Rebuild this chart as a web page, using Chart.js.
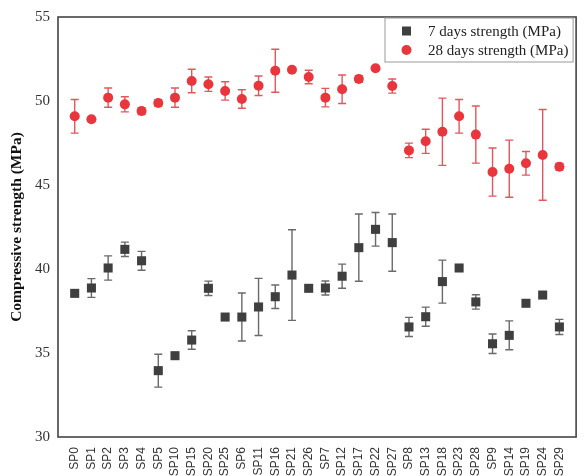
<!DOCTYPE html>
<html>
<head>
<meta charset="utf-8">
<script src="https://cdn.jsdelivr.net/npm/chart.js@4"></script>
<style>
  html, body { margin: 0; padding: 0; background: #fff; }
  #wrap { width: 584px; height: 476px; }
</style>
</head>
<body>
<div id="wrap"><canvas id="chart"></canvas></div>
<script>
/* data */
const categories = ["SP0","SP1","SP2","SP3","SP4","SP5","SP10","SP15","SP20","SP25",
  "SP6","SP11","SP16","SP21","SP26","SP7","SP12","SP17","SP22","SP27",
  "SP8","SP13","SP18","SP23","SP28","SP9","SP14","SP19","SP24","SP29"];
const days7 = [38.55, 38.87, 40.06, 41.17, 40.49, 33.95, 34.84, 35.77, 38.85, 37.14,
  37.14, 37.74, 38.35, 39.64, 38.85, 38.87, 39.57, 41.27, 42.36, 41.57,
  36.55, 37.16, 39.25, 40.06, 38.04, 35.55, 36.05, 37.96, 38.45, 36.55];
const days7Err = [0.1, 0.56, 0.72, 0.43, 0.56, 0.98, 0.1, 0.55, 0.43, 0.15,
  1.43, 1.7, 0.7, 2.7, 0.15, 0.42, 0.72, 2.0, 1.0, 1.7,
  0.57, 0.57, 1.28, 0.1, 0.43, 0.58, 0.86, 0.15, 0.1, 0.45];
const days28 = [49.09, 48.91, 50.2, 49.8, 49.4, 49.88, 50.2, 51.19, 51.0, 50.6,
  50.12, 50.91, 51.8, 51.86, 51.43, 50.2, 50.7, 51.31, 51.95, 50.89,
  47.06, 47.6, 48.17, 49.09, 48.0, 45.77, 45.97, 46.29, 46.79, 46.09];
const days28Err = [1.0, 0.1, 0.57, 0.45, 0.2, 0.2, 0.57, 0.7, 0.43, 0.55,
  0.55, 0.58, 1.28, 0.1, 0.4, 0.55, 0.85, 0.2, 0.1, 0.42,
  0.43, 0.72, 2.0, 1.0, 1.7, 1.43, 1.7, 0.7, 2.7, 0.2];
const yTicks = [30, 35, 40, 45, 50, 55];

const toPoints = arr => arr.map((v, i) => ({ x: i, y: v }));

/* error bars, drawn through the scales */
const errorBars = {
  id: 'errorBars',
  beforeDatasetsDraw(chart) {
    const ctx = chart.ctx;
    const xs = chart.scales.x, ys = chart.scales.y;
    chart.data.datasets.forEach(ds => {
      if (!ds.err) return;
      ctx.save();
      ctx.strokeStyle = ds.errColor;
      ctx.lineWidth = 1.4;
      ds.data.forEach((p, i) => {
        const e = ds.err[i];
        const x = xs.getPixelForValue(p.x);
        const y1 = ys.getPixelForValue(p.y + e);
        const y2 = ys.getPixelForValue(p.y - e);
        ctx.beginPath();
        ctx.moveTo(x, y1); ctx.lineTo(x, y2);
        ctx.moveTo(x - 4, y1); ctx.lineTo(x + 4, y1);
        ctx.moveTo(x - 4, y2); ctx.lineTo(x + 4, y2);
        ctx.stroke();
      });
      ctx.restore();
    });
  }
};

/* frame + inner legend */
const frameLegend = {
  id: 'frameLegend',
  afterDraw(chart) {
    const ctx = chart.ctx, a = chart.chartArea;
    ctx.save();
    ctx.strokeStyle = '#444';
    ctx.lineWidth = 1.6;
    ctx.strokeRect(a.left, a.top, a.right - a.left, a.bottom - a.top);

    const bx = 385, by = 18, bw = a.right - 3 - bx, bh = 44;
    ctx.fillStyle = '#fff';
    ctx.fillRect(bx, by, bw, bh);
    ctx.strokeStyle = '#999';
    ctx.lineWidth = 1;
    ctx.strokeRect(bx, by, bw, bh);

    ctx.font = '15px "Liberation Serif", "Times New Roman", serif';
    ctx.textBaseline = 'middle';
    chart.data.datasets.forEach((ds, i) => {
      const y = by + 13 + i * 19;
      ctx.fillStyle = ds.backgroundColor;
      if (ds.pointStyle === 'rect') {
        ctx.fillRect(402, y - 4.5, 9, 9);
      } else {
        ctx.beginPath();
        ctx.arc(406.5, y, 5, 0, Math.PI * 2);
        ctx.fill();
      }
      ctx.fillStyle = '#222';
      ctx.fillText(ds.label, 428, y + 1);
    });
    ctx.restore();
  }
};

new Chart(document.getElementById('chart'), {
  type: 'scatter',
  data: {
    datasets: [{
      label: '7 days strength (MPa)',
      data: toPoints(days7),
      err: days7Err,
      errColor: '#6a6a6a',
      pointStyle: 'rect',
      pointRadius: 6.4,
      pointHoverRadius: 6.4,
      backgroundColor: '#3f3f3f',
      borderColor: '#3f3f3f',
      borderWidth: 0
    }, {
      label: '28 days strength (MPa)',
      data: toPoints(days28),
      err: days28Err,
      errColor: '#e0585c',
      pointStyle: 'circle',
      pointRadius: 5,
      pointHoverRadius: 5,
      backgroundColor: '#e8363c',
      borderColor: '#e8363c',
      borderWidth: 0
    }]
  },
  options: {
    responsive: true,
    maintainAspectRatio: false,
    animation: false,
    layout: { padding: { top: 17, right: 4, left: 0, bottom: 0 } },
    plugins: {
      legend: { display: false },
      tooltip: { enabled: false }
    },
    scales: {
      x: {
        type: 'linear',
        min: -1,
        max: categories.length,
        grid: { display: false, drawTicks: false },
        border: { display: false },
        afterBuildTicks: s => { s.ticks = categories.map((c, i) => ({ value: i })); },
        afterFit: s => { s.height = 39; },
        ticks: {
          autoSkip: false,
          minRotation: 90,
          maxRotation: 90,
          padding: 10,
          color: '#333',
          font: { family: '"Liberation Sans", Arial, sans-serif', size: 12 },
          callback: v => categories[v]
        }
      },
      y: {
        min: 30,
        max: 55,
        grid: { display: false, drawTicks: false },
        border: { display: false },
        afterBuildTicks: s => { s.ticks = yTicks.map(v => ({ value: v })); },
        afterFit: s => { s.width = 58; },
        ticks: {
          padding: 8,
          color: '#333',
          font: { family: '"Liberation Serif", "Times New Roman", serif', size: 15 }
        },
        title: {
          display: true,
          text: 'Compressive strength (MPa)',
          color: '#111',
          padding: { top: 8, bottom: 4 },
          font: { family: '"Liberation Serif", "Times New Roman", serif', size: 15.5, weight: 'bold' }
        }
      }
    }
  },
  plugins: [errorBars, frameLegend]
});
</script>
</body>
</html>
